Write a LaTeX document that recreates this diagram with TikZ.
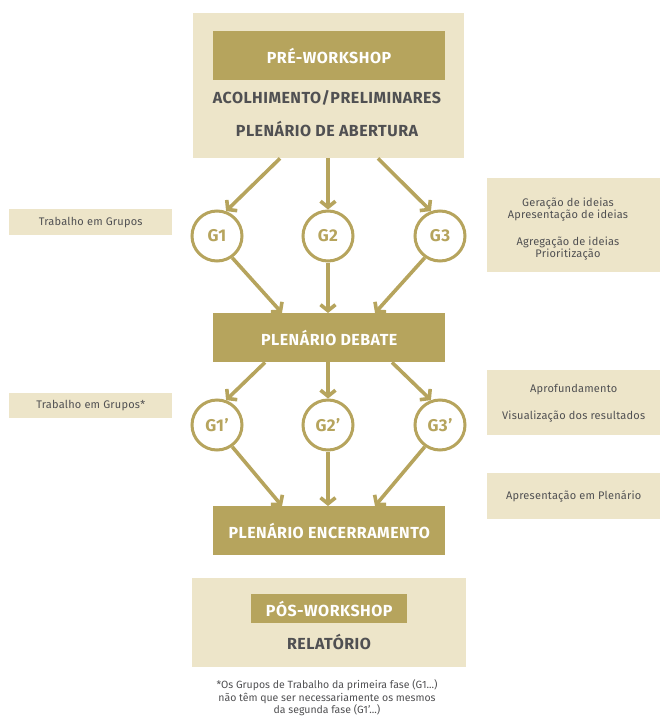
\documentclass[tikz,border=0pt]{standalone}
\usepackage{fontspec}
\setmainfont{Fira Sans}
\newfontfamily\hdrfont{Fira Sans}[LetterSpace=3]
\newfontfamily\notefont{Fira Sans}[LetterSpace=2]
\usetikzlibrary{arrows.meta}
\definecolor{lightgold}{RGB}{237,229,201}
\definecolor{gold}{RGB}{182,164,93}
\definecolor{ink}{RGB}{80,80,82}
\tikzset{
  panel/.style={fill=lightgold, draw=none, inner sep=0pt, anchor=north west},
  band/.style={fill=gold, draw=none, inner sep=0pt, anchor=north west},
  bandtext/.style={text=white, font=\hdrfont\bfseries\fontsize{16}{16}\selectfont},
  inktext/.style={text=ink, font=\hdrfont\bfseries\fontsize{16}{16}\selectfont},
  note/.style={text=ink, font=\notefont\fontsize{11}{12}\selectfont, align=center},
  group/.style={circle, draw=gold, line width=3pt, fill=white, minimum size=50pt, inner sep=0pt,
    text=gold, font=\hdrfont\bfseries\fontsize{17}{17}\selectfont},
  flow/.style={draw=gold, line width=3.6pt, -{Straight Barb[length=6pt, width=15pt]}},
}
\begin{document}
\begin{tikzpicture}[x=1pt, y=-1pt]
\useasboundingbox (0,0) rectangle (661,718);

% pre-workshop panel
\node[panel, minimum width=271pt, minimum height=145pt] (pre) at (193,13) {};
\node[band, minimum width=232pt, minimum height=49pt] (preband) at (213,31) {};
\node[bandtext] (pretitle) at (329,56) {PRÉ-WORKSHOP};
\node[inktext] (acolh) at (327,98) {ACOLHIMENTO/PRELIMINARES};
\node[inktext] (abert) at (327,129) {PLENÁRIO DE ABERTURA};

% first round of groups
\node[group] (g1) at (217,236) {G1};
\node[group] (g2) at (328,236) {G2};
\node[group] (g3) at (440,236) {G3};

% plenary debate
\node[band, minimum width=232pt, minimum height=49pt] (deb) at (213,313) {};
\node[bandtext] (debtitle) at (deb.center) {PLENÁRIO DEBATE};

% second round of groups
\node[group] (g1p) at (217,425) {G1’};
\node[group] (g2p) at (328,425) {G2’};
\node[group] (g3p) at (440,425) {G3’};

% closing plenary
\node[band, minimum width=232pt, minimum height=49pt] (enc) at (213,506) {};
\node[bandtext] (enctitle) at (enc.center) {PLENÁRIO ENCERRAMENTO};

% post-workshop panel
\node[panel, minimum width=274pt, minimum height=89pt] (pos) at (192,578) {};
\node[band, minimum width=156pt, minimum height=29pt] (posband) at (251,594) {};
\node[bandtext] (postitle) at (posband.center) {PÓS-WORKSHOP};
\node[inktext] (relat) at (329,642) {RELATÓRIO};

% footnote
\node[note, font=\fontsize{10.5}{12.5}\selectfont] (foot) at (327,698) {*Os Grupos de Trabalho da primeira fase (G1...)\\não têm que ser necessariamente os mesmos\\da segunda fase (G1’...)};

% side notes, left
\node[panel, minimum width=163pt, minimum height=26pt] (lnote1) at (9,209) {};
\node[note] at (lnote1.center) {Trabalho em Grupos};
\node[panel, minimum width=163pt, minimum height=25pt] (lnote2) at (9,393) {};
\node[note] at (lnote2.center) {Trabalho em Grupos*};

% side notes, right
\node[panel, minimum width=173pt, minimum height=94pt] (rnote1) at (487,178) {};
\node[note] at (568,229.5) {Geração de ideias\\Apresentação de ideias\\[15pt]Agregação de ideias\\Prioritização};
\node[panel, minimum width=173pt, minimum height=65pt] (rnote2) at (487,370) {};
\node[note, font=\notefont\fontsize{11}{27}\selectfont] at (rnote2.center) {Aprofundamento\\Visualização dos resultados};
\node[panel, minimum width=173pt, minimum height=46pt] (rnote3) at (487,473) {};
\node[note] at (rnote3.center) {Apresentação em Plenário};

% connectors
\draw[flow] (pre.south -| 280,0) -- (g1.70);
\draw[flow] (pre.south -| g2.north) -- (g2.north);
\draw[flow] (pre.south -| 378,0) -- (g3.110);
\draw[flow] (g1.-55) -- (deb.north -| 282,0);
\draw[flow] (g2.south) -- (deb.north -| g2.south);
\draw[flow] (g3.-125) -- (deb.north -| 375,0);

\draw[flow] (deb.south -| 265,0) -- (g1p.70);
\draw[flow] (deb.south -| g2p.north) -- (g2p.north);
\draw[flow] (deb.south -| 392,0) -- (g3p.110);
\draw[flow] (g1p.-55) -- (enc.north -| 282,0);
\draw[flow] (g2p.south) -- (enc.north -| g2p.south);
\draw[flow] (g3p.-125) -- (enc.north -| 375,0);
\end{tikzpicture}
\end{document}
